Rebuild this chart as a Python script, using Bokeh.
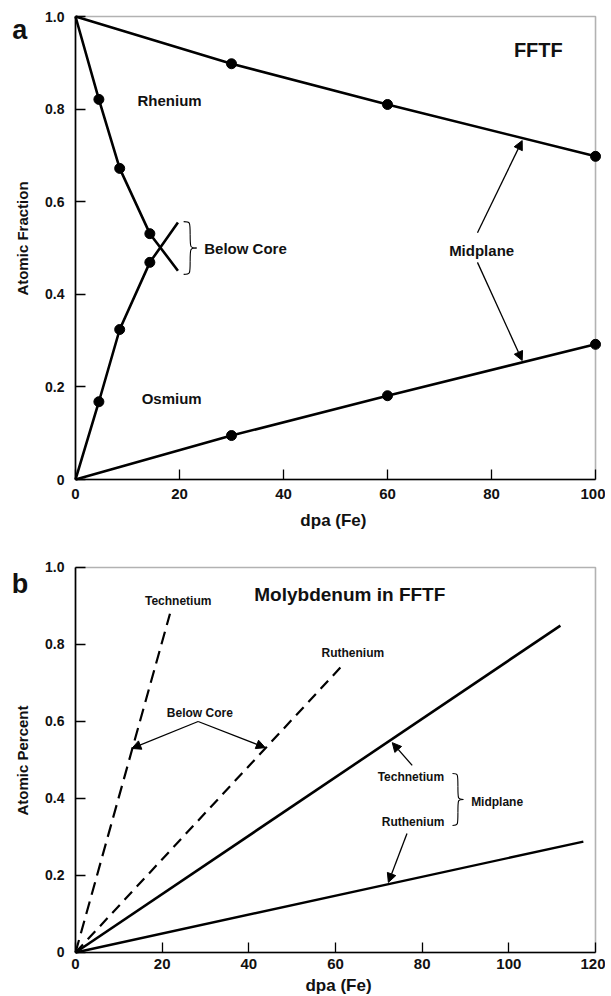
import math
from bokeh.plotting import figure
from bokeh.models import (Range1d, FixedTicker, CustomJSTickFormatter, Label,
                          Arrow, NormalHead, BoxAnnotation)
from bokeh.layouts import column
from bokeh.embed import file_html
from bokeh.resources import INLINE

FONT = "Liberation Sans"

# ---------------- Panel a data (FFTF, Re -> Os) ----------------
y_ticks = [0, 0.2, 0.4, 0.6, 0.8, 1.0]
a_x_ticks = [0, 20, 40, 60, 80, 100]

# Midplane
re_mid_x = [0, 30, 60, 100]
re_mid_y = [1.0, 0.898, 0.81, 0.698]
os_mid_x = [0, 30, 60, 100]
os_mid_y = [0.0, 0.095, 0.181, 0.292]
# Below core
re_bc_x = [0, 4.5, 8.5, 14.3, 19.7]
re_bc_y = [1.0, 0.821, 0.672, 0.531, 0.451]
os_bc_x = [0, 4.5, 8.5, 14.3, 19.7]
os_bc_y = [0.0, 0.168, 0.324, 0.469, 0.555]

# ---------------- Panel b data (Molybdenum in FFTF) ----------------
b_x_ticks = [0, 20, 40, 60, 80, 100, 120]
tc_bc_x = [0, 21.8]
tc_bc_y = [0.0, 0.88]
ru_bc_x = [0, 62.2]
ru_bc_y = [0.0, 0.753]
tc_mid_x = [0, 111.9]
tc_mid_y = [0.0, 0.849]
ru_mid_x = [0, 117.2]
ru_mid_y = [0.0, 0.288]


def style_axes(p, xticks, xbounds, x_standoff):
    p.xgrid.visible = False
    p.ygrid.visible = False
    p.xaxis.ticker = FixedTicker(ticks=xticks)
    p.xaxis.bounds = xbounds
    p.xaxis.fixed_location = 0
    p.yaxis.ticker = FixedTicker(ticks=y_ticks)
    p.yaxis.bounds = (0, 1)
    p.yaxis.fixed_location = 0
    p.yaxis.formatter = CustomJSTickFormatter(
        code="return tick == 0 ? '0' : tick.toFixed(1);")
    for ax in (p.xaxis[0], p.yaxis[0]):
        ax.major_tick_in = 10
        ax.major_tick_out = 0
        ax.minor_tick_line_color = None
        ax.axis_line_width = 1.6
        ax.axis_line_color = "black"
        ax.major_tick_line_width = 1.3
        ax.major_tick_line_color = "black"
        ax.major_label_text_font = FONT
        ax.major_label_text_font_style = "bold"
        ax.major_label_text_color = "#111111"
    p.xaxis.major_label_text_font_size = "15px"
    p.yaxis.major_label_text_font_size = "14px"
    p.yaxis.major_label_standoff = 11
    p.xaxis.major_label_standoff = x_standoff


def text(p, x, y, s, size, angle=0.0, baseline="middle"):
    p.add_layout(Label(x=x, y=y, text=s, text_font=FONT, text_font_style="bold",
                       text_font_size=size, text_align="center", angle=angle,
                       text_baseline=baseline, text_color="#111111"))


def arrow(p, xs, ys, xe, ye):
    p.add_layout(Arrow(end=NormalHead(size=9, fill_color="black", line_color="black",
                                      line_width=1),
                       x_start=xs, y_start=ys, x_end=xe, y_end=ye,
                       line_width=1.3, line_color="black"))


def brace(p, x0, yt, yb, x1):
    ym = (yt + yb) / 2
    xc = (x0 + x1) / 2
    q1 = (yt + ym) / 2
    q2 = (yb + ym) / 2
    p.bezier(x0=[x0, xc, xc, x1], y0=[yt, q1, q2, ym],
             x1=[xc, x1, x0, xc], y1=[q1, ym, yb, q2],
             cx0=[xc, xc, xc, xc], cy0=[yt, ym, yb, ym],
             cx1=[xc, xc, xc, xc], cy1=[yt, ym, yb, ym],
             line_color="black", line_width=1.1)


def make_fig(w, h, xr, yr):
    return figure(width=w, height=h, x_range=Range1d(*xr), y_range=Range1d(*yr),
                  output_backend="svg", toolbar_location=None,
                  min_border_left=0, min_border_right=0, min_border_top=0,
                  min_border_bottom=0, outline_line_color=None)


# ================= Panel a =================
# the frame fills the whole canvas; axes are pinned at x = 0 / y = 0
pa = make_fig(605, 545, (-14.42, 101.92), (-0.1425, 1.0346))
style_axes(pa, a_x_ticks, (0, 100), 9)
pa.add_layout(BoxAnnotation(left=0, right=100, bottom=0, top=1, fill_color=None,
                            line_color="black", line_width=1.6))

LW = 2.6
for xs, ys in ((re_mid_x, re_mid_y), (os_mid_x, os_mid_y)):
    pa.line(xs, ys, line_color="black", line_width=LW)
    pa.scatter(xs[1:], ys[1:], size=10, color="black")
for xs, ys in ((re_bc_x, re_bc_y), (os_bc_x, os_bc_y)):
    pa.line(xs, ys, line_color="black", line_width=LW)
    pa.scatter(xs[1:-1], ys[1:-1], size=10, color="black")

text(pa, -10.7, 0.970, "a", "27px", baseline="alphabetic")
text(pa, 49.6, -0.0886, "dpa (Fe)", "17px")
text(pa, -10.19, 0.5205, "Atomic Fraction", "15px", angle=math.pi / 2)
text(pa, 18.1, 0.819, "Rhenium", "15px")
text(pa, 18.5, 0.175, "Osmium", "15px")
text(pa, 89.0, 0.927, "FFTF", "20px")
text(pa, 32.7, 0.499, "Below Core", "15px")
text(pa, 78.1, 0.495, "Midplane", "15px")
brace(pa, 20.8, 0.557, 0.443, 23.3)
arrow(pa, 77.3, 0.533, 85.9, 0.732)
arrow(pa, 77.3, 0.469, 85.9, 0.257)

# ================= Panel b =================
pb = make_fig(605, 449, (-17.31, 122.31), (-0.1091, 1.0571))
style_axes(pb, b_x_ticks, (0, 120), 7)
pb.add_layout(BoxAnnotation(left=0, right=120, bottom=0, top=1, fill_color=None,
                            line_color="black", line_width=1.6))

pb.line(tc_bc_x, tc_bc_y, line_color="black", line_width=2.2, line_dash="13 7")
pb.line(ru_bc_x, ru_bc_y, line_color="black", line_width=2.2, line_dash="11 7")
pb.line(tc_mid_x, tc_mid_y, line_color="black", line_width=2.6)
pb.line(ru_mid_x, ru_mid_y, line_color="black", line_width=2.4)

text(pb, -12.8, 0.958, "b", "27px", baseline="alphabetic")
text(pb, 60.7, -0.0857, "dpa (Fe)", "17px")
text(pb, -12.23, 0.4987, "Atomic Percent", "15px", angle=math.pi / 2)
text(pb, 63.3, 0.93, "Molybdenum in FFTF", "19px")
text(pb, 23.7, 0.912, "Technetium", "12px")
text(pb, 64.0, 0.777, "Ruthenium", "12px")
text(pb, 28.7, 0.621, "Below Core", "12px")
text(pb, 77.4, 0.455, "Technetium", "12px")
text(pb, 77.9, 0.338, "Ruthenium", "12px")
text(pb, 97.3, 0.39, "Midplane", "12px")
brace(pb, 87.0, 0.465, 0.33, 89.5)
arrow(pb, 28.3, 0.600, 13.0, 0.530)
arrow(pb, 28.3, 0.600, 43.8, 0.532)
arrow(pb, 77.7, 0.486, 73.1, 0.545)
arrow(pb, 76.5, 0.309, 72.2, 0.182)

layout = column(pa, pb)
open("out.html", "w").write(file_html(layout, INLINE))
